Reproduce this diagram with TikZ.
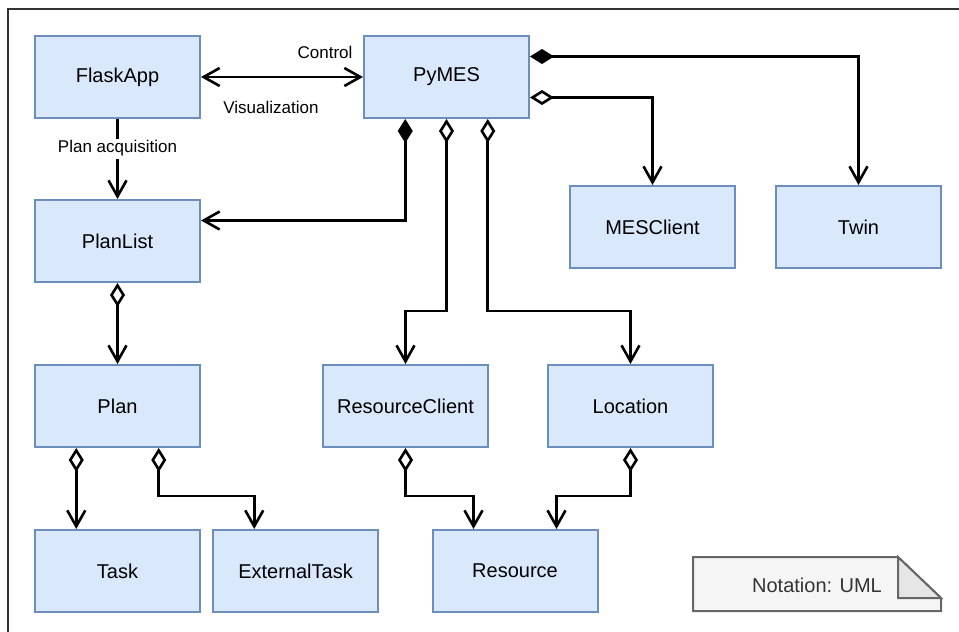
\documentclass[tikz,border=0pt]{standalone}
\usepackage{fontspec}
\setmainfont{Liberation Sans}
\usetikzlibrary{arrows.meta}

\definecolor{boxfill}{HTML}{DAE8FC}
\definecolor{boxline}{HTML}{6C8EBF}
\definecolor{framecol}{HTML}{333333}
\definecolor{notefill}{HTML}{F5F5F5}
\definecolor{notefold}{HTML}{E6E6E6}
\definecolor{noteline}{HTML}{666666}

\tikzset{
  cls/.style={draw=boxline, fill=boxfill, line width=2pt,
    minimum width=165pt, minimum height=82pt, inner sep=0pt,
    font=\fontsize{20pt}{24pt}\selectfont},
  conn/.style={line width=2.6pt, line join=miter,
    -{Straight Barb[length=16pt,width=18pt]}},
  both/.style={line width=2.6pt,
    {Straight Barb[length=16pt,width=18pt]}-{Straight Barb[length=16pt,width=18pt]}},
  aggr/.style={conn,
    {Diamond[fill=white,length=24pt,width=15pt]}-{Straight Barb[length=16pt,width=18pt]}},
  comp/.style={conn,
    {Diamond[fill=black,length=24pt,width=15pt]}-{Straight Barb[length=16pt,width=18pt]}},
  lbl/.style={font=\fontsize{17pt}{20pt}\selectfont, inner sep=1pt},
}

\begin{document}
\begin{tikzpicture}[x=1pt,y=-1pt]
  \useasboundingbox (0,0) rectangle (959,632);

  % outer frame (only top and left edges fall inside the page)
  \draw[framecol, line width=2.2pt] (8,632) -- (8,9) -- (959,9);

  % classes
  \node[cls] (flask)    at (117.5,77)  {FlaskApp};
  \node[cls] (pymes)    at (446.5,77)  {PyMES};
  \node[cls] (planlist) at (117.5,241) {PlanList};
  \node[cls] (mes)      at (652.5,227) {MESClient};
  \node[cls] (twin)     at (858.5,227) {Twin};
  \node[cls] (plan)     at (117.5,406) {Plan};
  \node[cls] (rclient)  at (405.5,406) {ResourceClient};
  \node[cls] (loc)      at (630.5,406) {Location};
  \node[cls] (task)     at (117.5,571) {Task};
  \node[cls] (ext)      at (295.5,571) {ExternalTask};
  \node[cls] (res)      at (515,571)   {Resource};

  % FlaskApp <-> PyMES
  \draw[both] (flask.east) -- (pymes.west);
  \node[lbl] (lcontrol) at (325,52)  {Control};
  \node[lbl] (lvis)     at (271,107) {Visualization};

  % FlaskApp -> PlanList
  \draw[conn] (flask.south) -- node[lbl, fill=white, inner sep=2pt, pos=0.37] (lplan) {Plan acquisition} (planlist.north);

  % PyMES compositions and aggregations
  \draw[comp] ([xshift=-41.25pt]pymes.south) |- ([yshift=20.5pt]planlist.east);
  \draw[aggr] (pymes.south) -- ++(0,192) coordinate (c1) -| (rclient.north);
  \draw[aggr] ([xshift=41.25pt]pymes.south) -- ++(0,192) coordinate (c2) -| (loc.north);
  \draw[comp] ([yshift=20.5pt]pymes.east) -| (twin.north);
  \draw[aggr] ([yshift=-20.5pt]pymes.east) -| (mes.north);

  % PlanList -> Plan
  \draw[aggr] (planlist.south) -- (plan.north);

  % Plan -> Task / ExternalTask
  \draw[aggr] ([xshift=-41.25pt]plan.south) -- ([xshift=-41.25pt]task.north);
  \draw[aggr] ([xshift=41.25pt]plan.south) -- ++(0,48) coordinate (c3) -| ([xshift=-41.25pt]ext.north);

  % ResourceClient / Location -> Resource
  \draw[aggr] (rclient.south) -- ++(0,48) coordinate (c4) -| ([xshift=-41.5pt]res.north);
  \draw[aggr] (loc.south) -- ++(0,48) coordinate (c5) -| ([xshift=41.5pt]res.north);

  % notation note with folded corner
  \draw[noteline, fill=notefill, line width=2pt, line join=miter]
    (693,557) -- (898,557) -- (941,598) -- (941,611) -- (693,611) -- cycle;
  \draw[noteline, fill=notefold, line width=2pt, line join=miter]
    (898,557) -- (898,598) -- (941,598) -- cycle;
  \node[font=\fontsize{20pt}{24pt}\selectfont, text=framecol] (note) at (817,585) {Notation: UML};
\end{tikzpicture}
\end{document}
